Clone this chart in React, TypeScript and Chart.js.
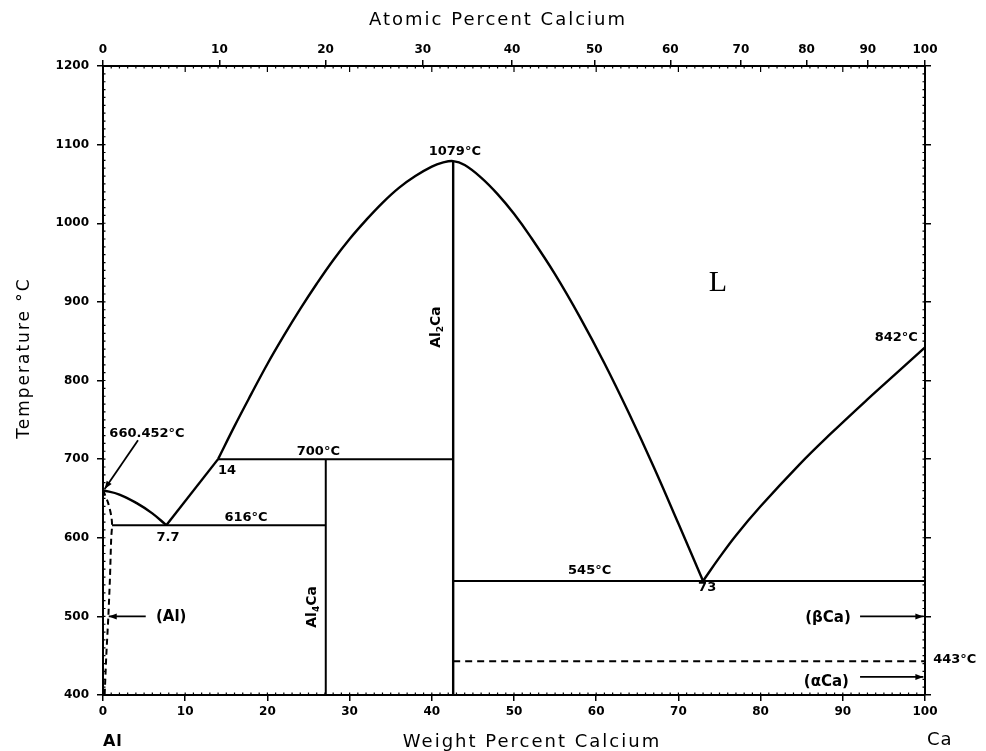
import React, { useEffect, useRef } from 'react';
import { Chart, registerables } from 'chart.js';

Chart.register(...registerables);

// ---- data (weight percent Ca, temperature °C) ----
const M_CA = 40.078;
const M_AL = 26.982;
const atomicTicks = [0, 10, 20, 30, 40, 50, 60, 70, 80, 90, 100];

const liquidusAl = [
  { x: 0, y: 660.452 }, { x: 2, y: 655 }, { x: 4.1, y: 644 }, { x: 6, y: 631 }, { x: 7.7, y: 616 },
];
const liquidusAl4Ca = [{ x: 7.7, y: 616 }, { x: 14, y: 700 }];
const liquidusAl2Ca = [
  { x: 14, y: 700 }, { x: 16, y: 742 }, { x: 18, y: 782 }, { x: 20, y: 821 }, { x: 22, y: 857 },
  { x: 24, y: 891 }, { x: 26, y: 923 }, { x: 28, y: 953 }, { x: 30, y: 980 }, { x: 32, y: 1004 },
  { x: 34, y: 1026 }, { x: 36, y: 1045 }, { x: 38, y: 1060 }, { x: 40, y: 1072 }, { x: 41.3, y: 1077 },
  { x: 42.6, y: 1079 }, { x: 44, y: 1074 }, { x: 46, y: 1058 }, { x: 48, y: 1037 }, { x: 50, y: 1012 },
  { x: 52, y: 983 }, { x: 55, y: 935 }, { x: 58, y: 881 }, { x: 61, y: 822 }, { x: 64, y: 758 },
  { x: 67, y: 690 }, { x: 70, y: 618 }, { x: 73, y: 545 },
];
const liquidusCa = [
  { x: 73, y: 545 }, { x: 75, y: 575 }, { x: 77, y: 603 }, { x: 80, y: 640 },
  { x: 84.8, y: 694 }, { x: 88.5, y: 732 }, { x: 92.9, y: 775 }, { x: 96.5, y: 809 }, { x: 100, y: 842 },
];
const eutectic616 = [{ x: 1.1, y: 616 }, { x: 27.1, y: 616 }];
const peritectic700 = [{ x: 14, y: 700 }, { x: 42.6, y: 700 }];
const al4CaLine = [{ x: 27.1, y: 400 }, { x: 27.1, y: 700 }];
const al2CaLine = [{ x: 42.6, y: 400 }, { x: 42.6, y: 1079 }];
const eutectic545 = [{ x: 42.6, y: 545 }, { x: 100, y: 545 }];
const transition443 = [{ x: 42.6, y: 443 }, { x: 100, y: 443 }];
const alSolvus = [
  { x: 0, y: 660.452 }, { x: 0.6, y: 645 }, { x: 1.0, y: 628 }, { x: 1.1, y: 616 },
  { x: 1.0, y: 600 }, { x: 0.85, y: 550 }, { x: 0.65, y: 500 }, { x: 0.4, y: 450 }, { x: 0.2, y: 400 },
];

// ---- annotations (data units) ----
const pointLabels = [
  { text: '660.452°C', x: 5.35, y: 733 },
  { text: '7.7', x: 7.9, y: 600 },
  { text: '14', x: 15.1, y: 686 },
  { text: '616°C', x: 17.4, y: 625 },
  { text: '700°C', x: 26.2, y: 710 },
  { text: '1079°C', x: 42.8, y: 1091 },
  { text: '842°C', x: 96.5, y: 854 },
  { text: '545°C', x: 59.2, y: 558 },
  { text: '73', x: 73.5, y: 536 },
];
const phaseNames = [
  { text: '(βCa)', x: 88.2, y: 498 },
  { text: '(αCa)', x: 88.0, y: 416 },
  { text: '(Al)', x: 8.3, y: 499 },
];
const sideLabels = [{ text: '443°C', x: 101, y: 445 }];
const arrows = [
  { x1: 4.26, y1: 724, x2: 0.2, y2: 662 },
  { x1: 5.2, y1: 500, x2: 0.7, y2: 500 },
  { x1: 92.1, y1: 500, x2: 99.8, y2: 500 },
  { x1: 92.1, y1: 423, x2: 99.8, y2: 423 },
];
const phaseLabels = [
  { parts: ['Al', '4', 'Ca'], x: 25.5, y: 512 },
  { parts: ['Al', '2', 'Ca'], x: 40.6, y: 868 },
];
const regionLabels = [{ text: 'L', x: 74.8, y: 924 }];

function atToWt(a: number): number {
  return (a * M_CA * 100) / (a * M_CA + (100 - a) * M_AL);
}

const tickFont = { family: 'DejaVu Sans', weight: 'bold' as const, size: 12 };
const labelFont = 'bold 13px "DejaVu Sans"';
const phaseFont = 'bold 15px "DejaVu Sans"';
const titleFont = '18px "DejaVu Sans"';

const decorPlugin = {
  id: 'decor',
  afterDraw(chart: any) {
    const ctx: CanvasRenderingContext2D = chart.ctx;
    const xs = chart.scales.x;
    const ys = chart.scales.y;
    const px = (v: number) => xs.getPixelForValue(v);
    const py = (v: number) => ys.getPixelForValue(v);
    const { left, right, top, bottom } = chart.chartArea;
    ctx.save();
    ctx.strokeStyle = '#000';
    ctx.fillStyle = '#000';
    // minor inward ticks
    ctx.lineWidth = 1.2;
    ctx.beginPath();
    for (let w = 1; w < 100; w++) {
      const x = px(w);
      ctx.moveTo(x, bottom);
      ctx.lineTo(x, bottom - 2.5);
      ctx.moveTo(x, top);
      ctx.lineTo(x, top + (w % 10 === 0 ? 6 : 2.5));
    }
    for (let t = 410; t < 1200; t += 10) {
      const y = py(t);
      ctx.moveTo(left, y);
      ctx.lineTo(left + 2.5, y);
      ctx.moveTo(right, y);
      ctx.lineTo(right - 2.5, y);
    }
    ctx.stroke();

    // arrows
    ctx.lineWidth = 1.8;
    arrows.forEach((a) => {
      const x1 = px(a.x1), y1 = py(a.y1), x2 = px(a.x2), y2 = py(a.y2);
      ctx.beginPath();
      ctx.moveTo(x1, y1);
      ctx.lineTo(x2, y2);
      ctx.stroke();
      const ang = Math.atan2(y2 - y1, x2 - x1);
      const L = 8, W = 3;
      ctx.beginPath();
      ctx.moveTo(x2, y2);
      ctx.lineTo(x2 - L * Math.cos(ang) + W * Math.sin(ang), y2 - L * Math.sin(ang) - W * Math.cos(ang));
      ctx.lineTo(x2 - L * Math.cos(ang) - W * Math.sin(ang), y2 - L * Math.sin(ang) + W * Math.cos(ang));
      ctx.closePath();
      ctx.fill();
    });

    // point labels
    ctx.font = labelFont;
    ctx.textAlign = 'center';
    ctx.textBaseline = 'middle';
    pointLabels.forEach((l) => ctx.fillText(l.text, px(l.x), py(l.y)));
    ctx.font = phaseFont;
    phaseNames.forEach((l) => ctx.fillText(l.text, px(l.x), py(l.y)));
    ctx.font = labelFont;
    ctx.textAlign = 'left';
    sideLabels.forEach((l) => ctx.fillText(l.text, px(l.x), py(l.y)));

    // region label
    ctx.font = '30px "Liberation Serif"';
    ctx.textAlign = 'center';
    regionLabels.forEach((l) => ctx.fillText(l.text, px(l.x), py(l.y)));

    // rotated phase labels with subscripts
    phaseLabels.forEach((p) => {
      ctx.save();
      ctx.translate(px(p.x), py(p.y));
      ctx.rotate(-Math.PI / 2);
      const big = 'bold 14px "DejaVu Sans"';
      const small = 'bold 9px "DejaVu Sans"';
      ctx.font = big;
      const w0 = ctx.measureText(p.parts[0]).width;
      const w2 = ctx.measureText(p.parts[2]).width;
      ctx.font = small;
      const w1 = ctx.measureText(p.parts[1]).width;
      let x = -(w0 + w1 + w2) / 2;
      ctx.textAlign = 'left';
      ctx.textBaseline = 'middle';
      ctx.font = big;
      ctx.fillText(p.parts[0], x, 0);
      x += w0;
      ctx.font = small;
      ctx.fillText(p.parts[1], x, 4);
      x += w1;
      ctx.font = big;
      ctx.fillText(p.parts[2], x, 0);
      ctx.restore();
    });

    // axis titles
    ctx.font = titleFont;
    (ctx as any).letterSpacing = '2px';
    ctx.textAlign = 'center';
    ctx.textBaseline = 'middle';
    ctx.fillText('Atomic Percent Calcium', 498, top - 46);
    ctx.fillText('Weight Percent Calcium', 532, bottom + 47);
    ctx.save();
    ctx.translate(25, 358);
    ctx.rotate(-Math.PI / 2);
    ctx.font = '17px "DejaVu Sans"';
    ctx.fillText('Temperature °C', 0, 0);
    ctx.restore();
    (ctx as any).letterSpacing = '1px';
    ctx.font = 'bold 16px "DejaVu Sans"';
    ctx.fillText('Al', px(1.2), bottom + 47);
    ctx.font = '18px "DejaVu Sans"';
    ctx.fillText('Ca', px(101.8), bottom + 45);
    (ctx as any).letterSpacing = '0px';
    ctx.restore();
  },
};

function line(data: { x: number; y: number }[], opts: any = {}) {
  return {
    data,
    showLine: true,
    borderColor: '#000',
    borderWidth: 2.4,
    pointRadius: 0,
    fill: false,
    xAxisID: 'x',
    yAxisID: 'y',
    ...opts,
  };
}

export default function App() {
  const ref = useRef<HTMLCanvasElement | null>(null);
  useEffect(() => {
    if (!ref.current) return;
    const chart = new Chart(ref.current, {
      type: 'scatter',
      data: {
        datasets: [
          line(liquidusAl, { tension: 0.4 }),
          line(liquidusAl4Ca),
          line(liquidusAl2Ca, { tension: 0.4 }),
          line(liquidusCa, { tension: 0.4 }),
          line(eutectic616, { borderWidth: 2 }),
          line(peritectic700, { borderWidth: 2 }),
          line(al4CaLine, { borderWidth: 2 }),
          line(al2CaLine, { borderWidth: 2.4 }),
          line(eutectic545, { borderWidth: 2 }),
          line(transition443, { borderWidth: 2, borderDash: [7, 5] }),
          line(alSolvus, { borderWidth: 2, borderDash: [6, 4], tension: 0.3 }),
        ] as any,
      },
      options: {
        animation: false,
        responsive: false,
        devicePixelRatio: 1,
        layout: { padding: 0 },
        plugins: { legend: { display: false }, tooltip: { enabled: false }, title: { display: false } },
        scales: {
          x: {
            type: 'linear',
            position: 'bottom',
            min: 0,
            max: 100,
            ticks: {
              stepSize: 10, color: '#000', font: tickFont, padding: 4, autoSkip: false, maxRotation: 0,
              callback: (v: any) => String(v),
            },
            grid: { drawOnChartArea: false, tickLength: 6, color: '#000', lineWidth: 1.5 },
            border: { display: true, color: '#000', width: 2 },
            afterFit: (s: any) => { s.height = 56; },
          },
          x2: {
            type: 'linear',
            position: 'top',
            min: 0,
            max: 100,
            afterBuildTicks: (s: any) => { s.ticks = atomicTicks.map((a) => ({ value: atToWt(a) })); },
            ticks: {
              color: '#000', font: tickFont, padding: 3, autoSkip: false, maxRotation: 0,
              callback: (_v: any, i: number) => String(atomicTicks[i]),
            },
            grid: { drawOnChartArea: false, tickLength: 6, color: '#000', lineWidth: 1.5 },
            border: { display: true, color: '#000', width: 2 },
            afterFit: (s: any) => { s.height = 66; },
          },
          y: {
            type: 'linear',
            position: 'left',
            min: 400,
            max: 1200,
            ticks: { stepSize: 100, color: '#000', font: tickFont, padding: 8, callback: (v: any) => String(v) },
            grid: { drawOnChartArea: false, tickLength: 6, color: '#000', lineWidth: 1.5 },
            border: { display: true, color: '#000', width: 2 },
            afterFit: (s: any) => { s.width = 103; },
          },
          y2: {
            type: 'linear',
            position: 'right',
            min: 400,
            max: 1200,
            ticks: { stepSize: 100, display: false },
            grid: { drawOnChartArea: false, tickLength: 6, color: '#000', lineWidth: 1.5 },
            border: { display: true, color: '#000', width: 2 },
            afterFit: (s: any) => { s.width = 61; },
          },
        },
      } as any,
      plugins: [decorPlugin],
    });
    return () => chart.destroy();
  }, []);

  return (
    <div style={{ position: 'absolute', left: 0, top: 0, width: 986, height: 751, background: '#fff' }}>
      <canvas ref={ref} width={986} height={751} />
    </div>
  );
}
